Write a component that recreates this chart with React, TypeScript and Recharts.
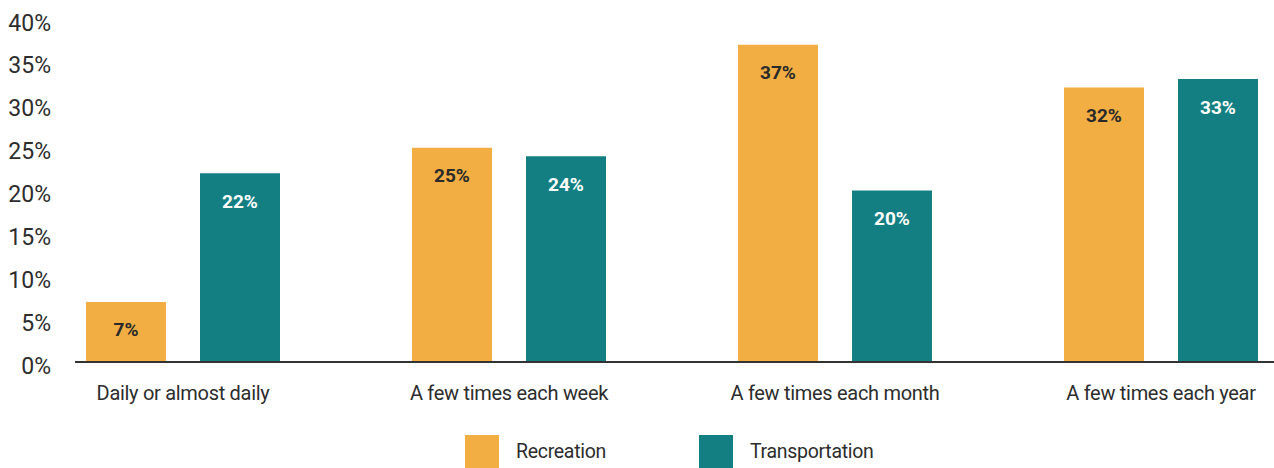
import * as React from "react";
import { BarChart, Bar, XAxis, YAxis, LabelList } from "recharts";

const categories = [
  "Daily or almost daily",
  "A few times each week",
  "A few times each month",
  "A few times each year",
];
const recreation = [7, 25, 37, 32];
const transportation = [22, 24, 20, 33];
const yTicks = [0, 5, 10, 15, 20, 25, 30, 35, 40];

const series = [
  { key: "recreation", name: "Recreation", color: "#F2AE43", labelColor: "#2a2a2a" },
  { key: "transportation", name: "Transportation", color: "#147F83", labelColor: "#ffffff" },
];

const data = categories.map((c, i) => ({
  category: c,
  recreation: recreation[i],
  transportation: transportation[i],
}));

const FONT = "Roboto, 'Noto Sans', sans-serif";

const YTick = (props: any) => {
  const { x, y, payload } = props;
  return (
    <text x={x} y={y} dy={4} textAnchor="end" dominantBaseline="central" fontFamily={FONT} fontSize={23} fill="#2d2d2d">
      {`${payload.value}%`}
    </text>
  );
};

const XTick = (props: any) => {
  const { x, y, payload } = props;
  return (
    <text
      x={x}
      y={y + 23}
      textAnchor="middle"
      dominantBaseline="central"
      fontFamily={FONT}
      fontSize={20}
      letterSpacing={-0.3}
      fill="#2d2d2d"
    >
      {payload.value}
    </text>
  );
};

const makeLabel = (color: string) => (props: any) => {
  const { x, y, width, value } = props;
  return (
    <text
      x={x + width / 2}
      y={y + 28}
      textAnchor="middle"
      dominantBaseline="central"
      fontFamily={FONT}
      fontSize={19}
      fontWeight={700}
      fill={color}
    >
      {`${value}%`}
    </text>
  );
};

export default function App() {
  return (
    <div style={{ position: "relative", width: 1274, height: 468 }}>
      <style>{`body{margin:0}`}</style>
      <BarChart
        width={1274}
        height={468}
        data={data}
        margin={{ top: 19, right: 0, bottom: 66, left: 0 }}
        barGap={34}
        barSize={80}
      >
        <XAxis
          dataKey="category"
          tick={<XTick />}
          tickLine={false}
          axisLine={{ stroke: "#333", strokeWidth: 2 }}
          height={40}
          padding={{ left: -55, right: -50 }}
          interval={0}
        />
        <YAxis
          domain={[0, 40]}
          ticks={yTicks}
          tick={<YTick />}
          tickLine={false}
          axisLine={false}
          tickSize={0}
          tickMargin={24}
          width={75}
          interval={0}
        />
        {series.map((s) => (
          <Bar key={s.key} dataKey={s.key} name={s.name} fill={s.color} isAnimationActive={false}>
            <LabelList dataKey={s.key} content={makeLabel(s.labelColor)} />
          </Bar>
        ))}
      </BarChart>
      <div
        style={{
          position: "absolute",
          left: 465,
          top: 435,
          display: "flex",
          alignItems: "center",
          fontFamily: FONT,
          fontSize: 19.5,
          letterSpacing: -0.3,
          color: "#2d2d2d",
        }}
      >
        {series.map((s, i) => (
          <div key={s.key} style={{ display: "flex", alignItems: "center", marginRight: i === 0 ? 93 : 0 }}>
            <div style={{ width: 34, height: 33, background: s.color, marginRight: 17 }} />
            <span>{s.name}</span>
          </div>
        ))}
      </div>
    </div>
  );
}
